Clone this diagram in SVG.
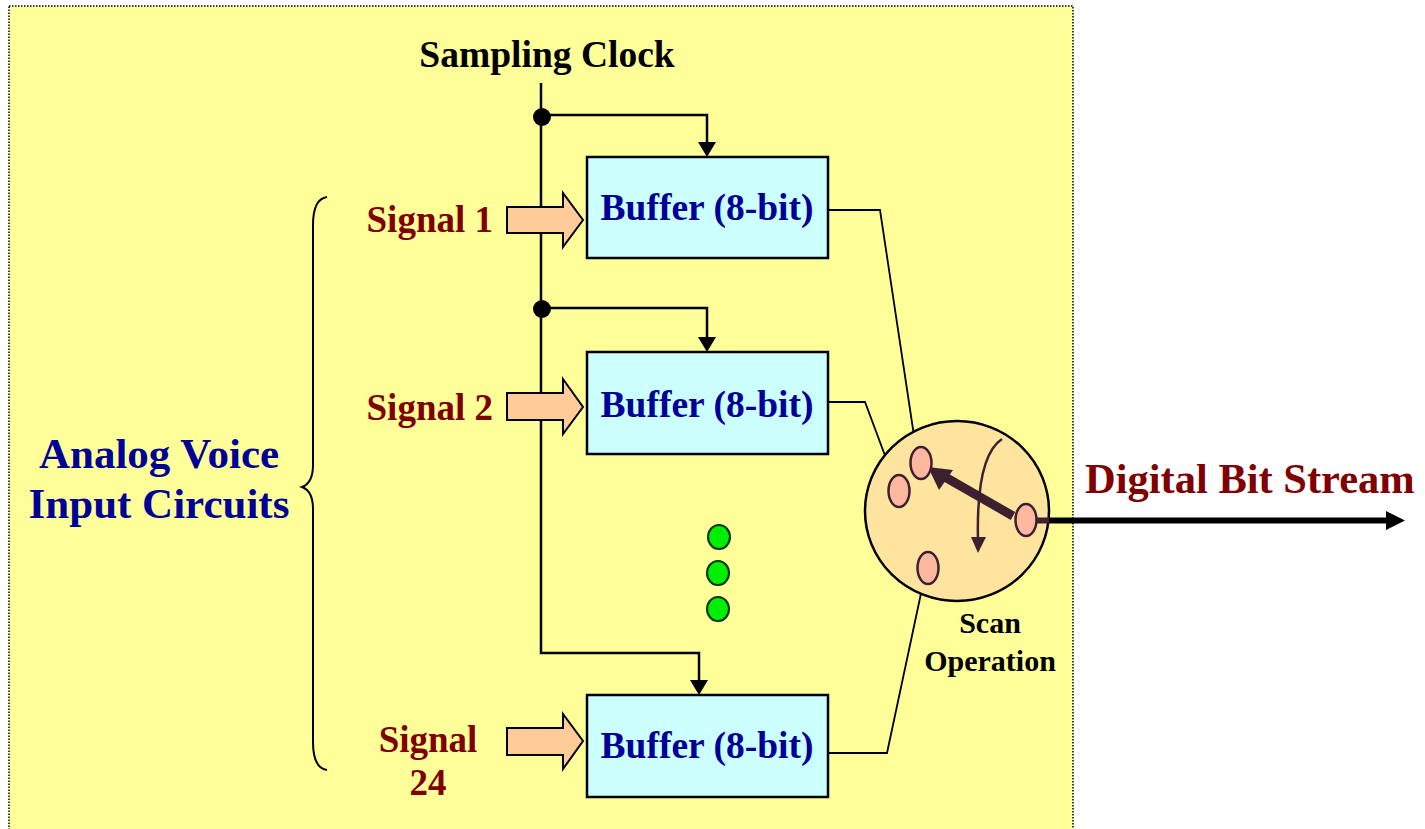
<svg xmlns="http://www.w3.org/2000/svg" width="1425" height="829" viewBox="0 0 1425 829">
<style>
.bold{font-family:"Liberation Serif","Times New Roman",serif;font-weight:bold}
.buf{fill:#ccffff;stroke:#000;stroke-width:2.5}
.buft{font-size:37.5px;fill:#000099;text-anchor:middle}
.sig{font-size:37px;fill:#800000}
.in{fill:#ffcc99;stroke:#000;stroke-width:2}
.wire{fill:none;stroke:#000;stroke-width:2.5}
.thin{fill:none;stroke:#000;stroke-width:1.8}
.dot{fill:#00ee00;stroke:#003300;stroke-width:2}
.pin{fill:#ffb8a0;stroke:#3c2030;stroke-width:2.5}
</style>
<rect x="9" y="6" width="1064" height="830" fill="#ffff99" stroke="#000" stroke-width="1.5" stroke-dasharray="1.5,1.5"/>
<text class="bold" x="547" y="67" font-size="37.5" text-anchor="middle" fill="#000">Sampling Clock</text>
<g id="brace">
<path d="M327,197 Q313,199 313,225 L313,465 Q313,483 302,487 Q313,491 313,509 L313,742 Q313,768 327,770" fill="none" stroke="#000" stroke-width="2"/>
<text class="bold" x="159" y="468" font-size="43" fill="#000099" text-anchor="middle">Analog Voice</text>
<text class="bold" x="159" y="518" font-size="43" fill="#000099" text-anchor="middle">Input Circuits</text>
</g>
<g id="connectors">
<path class="wire" d="M541,83 L541,653 L699,653 L699,684"/>
<path class="wire" d="M541,115 L707,115 L707,146"/>
<path class="wire" d="M541,308 L707,308 L707,341"/>
<polygon points="699,695 690,680 708,680" fill="#000"/>
<polygon points="707,157 698,142 716,142" fill="#000"/>
<polygon points="707,352 698,337 716,337" fill="#000"/>
<circle cx="542" cy="117" r="9" fill="#000"/>
<circle cx="542" cy="309" r="9" fill="#000"/>
<polyline class="thin" points="828,210 880,210 916,449"/>
<polyline class="thin" points="828,402 865,402 893,477"/>
<polyline class="thin" points="828,753 887,753 923,584"/>
<line x1="1037" y1="520.5" x2="1388" y2="520.5" stroke="#000" stroke-width="6"/>
<polygon points="1405,520.5 1386,511 1386,530" fill="#000"/>
</g>
<g id="signal1">
<text class="bold sig" x="493" y="232" text-anchor="end">Signal 1</text>
<polygon class="in" points="507,207 563,207 563,193 583,220 563,247 563,233 507,233"/>
</g>
<g id="signal2">
<text class="bold sig" x="493" y="420" text-anchor="end">Signal 2</text>
<polygon class="in" points="507,393 563,393 563,379 583,407 563,434 563,420 507,420"/>
</g>
<g id="signal24">
<text class="bold sig" x="428" y="752" text-anchor="middle">Signal</text>
<text class="bold sig" x="428" y="795" text-anchor="middle">24</text>
<polygon class="in" points="507,728 563,728 563,714 583,741 563,769 563,755 507,755"/>
</g>
<g id="buffer1">
<rect class="buf" x="587" y="157" width="241" height="101"/>
<text class="bold buft" x="707" y="220">Buffer (8-bit)</text>
</g>
<g id="buffer2">
<rect class="buf" x="587" y="352" width="241" height="102"/>
<text class="bold buft" x="707" y="417">Buffer (8-bit)</text>
</g>
<g id="buffer24">
<rect class="buf" x="587" y="695" width="241" height="102"/>
<text class="bold buft" x="707" y="758">Buffer (8-bit)</text>
</g>
<g id="dots">
<ellipse class="dot" cx="719" cy="537" rx="11" ry="12"/>
<ellipse class="dot" cx="718" cy="573" rx="11" ry="12"/>
<ellipse class="dot" cx="718" cy="609" rx="11" ry="12"/>
</g>
<g id="scanner">
<ellipse cx="957" cy="511" rx="92" ry="90" fill="#ffe4a0" stroke="#000" stroke-width="2.5"/>
<line x1="1037" y1="520.5" x2="1049" y2="520.5" stroke="#3c2030" stroke-width="6"/>
<line x1="1013" y1="516" x2="945" y2="477" stroke="#3c2030" stroke-width="9"/>
<polygon points="928,467 953,470 939,490" fill="#3c2030"/>
<path d="M1002,439 Q976,456 978,540" fill="none" stroke="#3c2030" stroke-width="2.5"/>
<polygon points="971,537 986,537 978,553" fill="#3c2030"/>
<ellipse class="pin" cx="921" cy="463" rx="10.5" ry="16"/>
<ellipse class="pin" cx="899" cy="491" rx="10.5" ry="16"/>
<ellipse class="pin" cx="928" cy="568" rx="10.5" ry="16"/>
<ellipse class="pin" cx="1026" cy="520" rx="10.5" ry="16"/>
<text class="bold" x="990" y="633" font-size="30" text-anchor="middle" fill="#000">Scan</text>
<text class="bold" x="990" y="671" font-size="30" text-anchor="middle" fill="#000">Operation</text>
</g>
<text class="bold" x="1085" y="493" font-size="42.5" fill="#800000">Digital Bit Stream</text>
</svg>
